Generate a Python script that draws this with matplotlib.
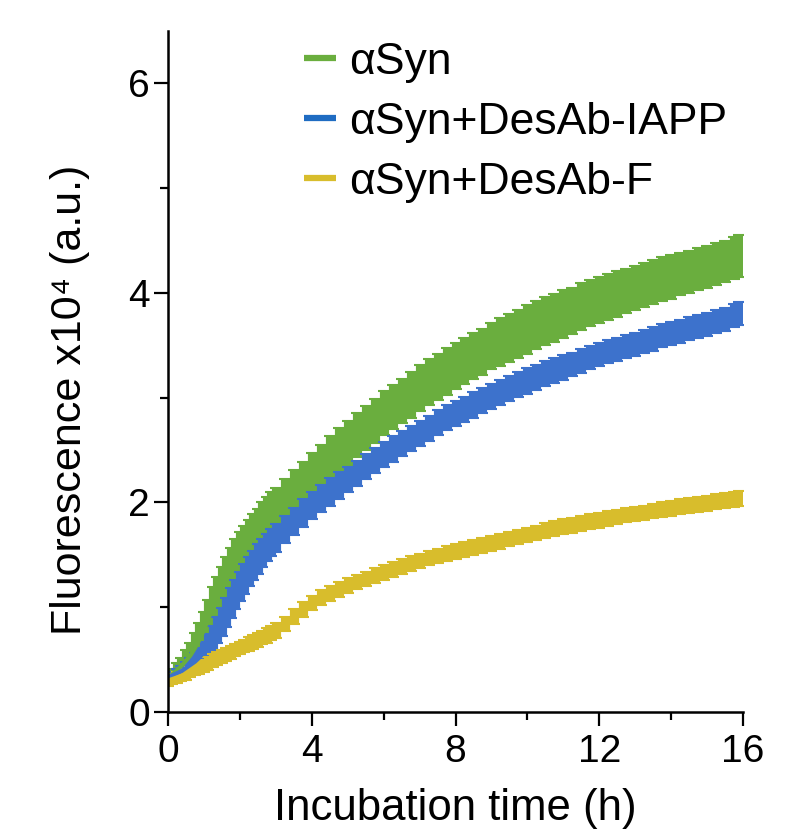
import matplotlib
matplotlib.use("Agg")
import matplotlib.pyplot as plt
from matplotlib.ticker import MultipleLocator
from matplotlib.lines import Line2D
import numpy as np

plt.rcParams['font.family'] = ['Liberation Sans', 'DejaVu Sans']

# time in hours (denser readings during the steep early phase)
time_h = [0.0, 0.125, 0.25, 0.375, 0.5, 0.625, 0.75, 0.875, 1.0, 1.125, 1.25, 1.375, 1.5, 1.625, 1.75, 1.875,
          2.0, 2.125, 2.25, 2.375, 2.5, 2.625, 2.75, 2.875, 3.0,
          3.25, 3.5, 3.75, 4.0, 4.25, 4.5, 4.75, 5.0, 5.25, 5.5, 5.75, 6.0, 6.25, 6.5, 6.75, 7.0, 7.25, 7.5, 7.75,
          8.0, 8.25, 8.5, 8.75, 9.0, 9.25, 9.5, 9.75, 10.0, 10.25, 10.5, 10.75, 11.0, 11.25, 11.5, 11.75,
          12.0, 12.25, 12.5, 12.75, 13.0, 13.25, 13.5, 13.75, 14.0, 14.25, 14.5, 14.75, 15.0, 15.25, 15.5, 15.75,
          15.9]

asyn = [0.33, 0.36, 0.40, 0.44, 0.49, 0.54, 0.61, 0.69, 0.78, 0.89, 1.00, 1.09, 1.18, 1.28, 1.37, 1.45,
        1.52, 1.58, 1.63, 1.69, 1.74, 1.80, 1.85, 1.90, 1.94,
        2.02, 2.10, 2.18, 2.26, 2.34, 2.42, 2.50, 2.57, 2.64, 2.71, 2.78, 2.85, 2.91, 2.97, 3.03, 3.09, 3.15, 3.20, 3.25,
        3.30, 3.35, 3.40, 3.44, 3.49, 3.53, 3.57, 3.61, 3.65, 3.69, 3.73, 3.76, 3.80, 3.83, 3.87, 3.90,
        3.93, 3.96, 3.99, 4.02, 4.05, 4.08, 4.10, 4.13, 4.15, 4.18, 4.20, 4.23, 4.25, 4.28, 4.30, 4.33,
        4.35]
asyn_err = [0.04, 0.05, 0.07, 0.08, 0.10, 0.12, 0.14, 0.16, 0.17, 0.18, 0.19, 0.20, 0.20, 0.20, 0.20, 0.20,
            0.20, 0.20, 0.20, 0.20, 0.20, 0.20, 0.20, 0.20, 0.20,
            0.20, 0.21, 0.21, 0.21, 0.21, 0.21, 0.21, 0.21, 0.21, 0.21, 0.21, 0.21, 0.21, 0.21, 0.22, 0.22, 0.22, 0.22, 0.22,
            0.22, 0.22, 0.22, 0.22, 0.22, 0.23, 0.23, 0.23, 0.23, 0.23, 0.23, 0.23, 0.23, 0.22, 0.22, 0.22,
            0.22, 0.22, 0.22, 0.21, 0.21, 0.21, 0.21, 0.21, 0.21, 0.20, 0.20, 0.20, 0.20, 0.20, 0.20, 0.20,
            0.20]

asyn_iapp = [0.33, 0.35, 0.37, 0.39, 0.42, 0.45, 0.48, 0.52, 0.57, 0.63, 0.70, 0.78, 0.86, 0.95, 1.04, 1.12,
             1.20, 1.27, 1.34, 1.40, 1.46, 1.52, 1.57, 1.62, 1.66,
             1.74, 1.82, 1.90, 1.97, 2.04, 2.10, 2.16, 2.22, 2.28, 2.34, 2.40, 2.46, 2.51, 2.56, 2.61, 2.66, 2.71, 2.76, 2.81,
             2.85, 2.89, 2.93, 2.97, 3.01, 3.05, 3.09, 3.13, 3.16, 3.19, 3.23, 3.26, 3.29, 3.32, 3.35, 3.38,
             3.41, 3.44, 3.46, 3.49, 3.51, 3.54, 3.56, 3.59, 3.61, 3.63, 3.66, 3.68, 3.70, 3.73, 3.75, 3.78,
             3.80]
asyn_iapp_err = [0.03, 0.035, 0.04, 0.05, 0.06, 0.07, 0.08, 0.09, 0.10, 0.11, 0.12, 0.125, 0.13, 0.135, 0.14, 0.14,
                 0.14, 0.14, 0.14, 0.14, 0.14, 0.135, 0.13, 0.13, 0.13,
                 0.13, 0.13, 0.13, 0.13, 0.13, 0.13, 0.13, 0.12, 0.12, 0.12, 0.12, 0.12, 0.12, 0.12, 0.12, 0.12, 0.12, 0.12, 0.12,
                 0.12, 0.12, 0.12, 0.12, 0.12, 0.12, 0.12, 0.12, 0.12, 0.12, 0.12, 0.12, 0.12, 0.11, 0.11, 0.11,
                 0.11, 0.11, 0.11, 0.11, 0.11, 0.11, 0.11, 0.11, 0.11, 0.11, 0.11, 0.11, 0.11, 0.11, 0.11, 0.11,
                 0.11]

asyn_f = [0.30, 0.315, 0.33, 0.345, 0.36, 0.38, 0.40, 0.42, 0.44, 0.465, 0.49, 0.51, 0.53, 0.55, 0.57, 0.59,
          0.61, 0.63, 0.65, 0.67, 0.69, 0.71, 0.73, 0.755, 0.78,
          0.84, 0.91, 0.98, 1.04, 1.09, 1.13, 1.17, 1.21, 1.24, 1.27, 1.30, 1.33, 1.36, 1.39, 1.42, 1.44, 1.47, 1.49, 1.51,
          1.53, 1.55, 1.57, 1.59, 1.61, 1.63, 1.65, 1.67, 1.69, 1.71, 1.73, 1.75, 1.77, 1.78, 1.80, 1.82,
          1.83, 1.85, 1.86, 1.88, 1.89, 1.90, 1.92, 1.93, 1.94, 1.96, 1.97, 1.98, 1.99, 2.01, 2.02, 2.03,
          2.04]
asyn_f_err = [0.05, 0.05, 0.05, 0.05, 0.05, 0.05, 0.05, 0.055, 0.06, 0.06, 0.06, 0.06, 0.06, 0.06, 0.06, 0.06,
              0.06, 0.06, 0.065, 0.065, 0.065, 0.065, 0.07, 0.07, 0.07,
              0.07, 0.07, 0.07, 0.07, 0.07, 0.07, 0.07, 0.07, 0.07, 0.07, 0.07, 0.07, 0.07, 0.07, 0.07, 0.07, 0.07, 0.07, 0.07,
              0.07, 0.07, 0.07, 0.07, 0.07, 0.07, 0.07, 0.07, 0.07, 0.07, 0.07, 0.07, 0.07, 0.07, 0.07, 0.07,
              0.07, 0.07, 0.07, 0.07, 0.07, 0.07, 0.07, 0.07, 0.07, 0.07, 0.07, 0.07, 0.07, 0.07, 0.07, 0.07,
              0.07]

labels = ['αSyn', 'αSyn+DesAb-IAPP', 'αSyn+DesAb-F']
colors = ['#6aae3e', '#3d72cc', '#d8bd2c']
legend_colors = ['#6aae3e', '#1f6cc2', '#d8bd2c']
series = [(asyn, asyn_err), (asyn_iapp, asyn_iapp_err), (asyn_f, asyn_f_err)]

fig = plt.figure(figsize=(7.92, 8.36), dpi=100)
ax = fig.add_axes([168 / 792, 124 / 836, 575 / 792, 681 / 836])

t = np.array(time_h)
for (m, e), c, lab in zip(series, colors, labels):
    ax.errorbar(t, m, yerr=e, color=c, lw=3, elinewidth=6.6, capsize=4.5, capthick=1.5,
                label=lab, zorder=2)

ax.set_xlim(0, 16)
ax.set_ylim(0, 6.5)
ax.xaxis.set_major_locator(MultipleLocator(4))
ax.xaxis.set_minor_locator(MultipleLocator(2))
ax.yaxis.set_major_locator(MultipleLocator(2))
ax.yaxis.set_minor_locator(MultipleLocator(1))
for s in ['top', 'right']:
    ax.spines[s].set_visible(False)
for s in ['left', 'bottom']:
    ax.spines[s].set_linewidth(1.8)
    ax.spines[s].set_zorder(3)
ax.tick_params(which='major', length=10, width=1.6, labelsize=28, pad=3)
ax.tick_params(which='minor', length=5.5, width=1.6)
ax.tick_params(axis='x', which='major', pad=6)

ax.set_xlabel('Incubation time (h)', fontsize=31.5, labelpad=13)
ax.set_ylabel('Fluorescence x10⁴ (a.u.)', fontsize=31)
ax.yaxis.set_label_coords(-0.135, 0.458)

handles = [Line2D([], [], color=c, lw=4.5, solid_capstyle='butt') for c in legend_colors]
ax.legend(handles, labels, loc='upper left', bbox_to_anchor=(0.183, 1.03), frameon=False,
          fontsize=32, handlelength=0.72, handletextpad=0.28, labelspacing=0.43, borderpad=0.2)

fig.savefig('out.png', dpi=100)
